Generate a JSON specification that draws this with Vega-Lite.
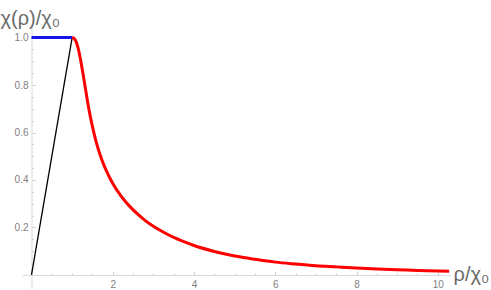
{
  "$schema": "https://vega.github.io/schema/vega-lite/v6.json",
  "width": 428,
  "height": 263,
  "autosize": {"type": "none"},
  "padding": {"left": 22, "top": 25, "right": 41, "bottom": 2},
  "background": "white",
  "config": {
    "view": {"stroke": null},
    "axis": {
      "domainColor": "#d9d9d9",
      "tickColor": "#d0d0d0",
      "labelColor": "#808080",
      "labelFont": "Liberation Sans",
      "labelFontSize": 10,
      "titleFont": "Liberation Sans",
      "titleFontSize": 20,
      "titleFontWeight": "normal",
      "titleColor": "#6a6a6a",
      "grid": false,
      "labelFlush": false,
      "labelOverlap": false
    }
  },
  "datasets": {
    "curves": [
      {"s": "linear", "x": 0, "y": 0},
      {"s": "linear", "x": 1, "y": 1},
      {"s": "flat", "x": 0, "y": 1},
      {"s": "flat", "x": 1, "y": 1},
      {"s": "tail", "x": 1.0, "y": 1.0},
      {"s": "tail", "x": 1.05, "y": 0.996},
      {"s": "tail", "x": 1.1, "y": 0.982},
      {"s": "tail", "x": 1.15, "y": 0.953},
      {"s": "tail", "x": 1.2, "y": 0.913},
      {"s": "tail", "x": 1.25, "y": 0.866},
      {"s": "tail", "x": 1.3, "y": 0.814},
      {"s": "tail", "x": 1.4, "y": 0.71},
      {"s": "tail", "x": 1.5, "y": 0.625},
      {"s": "tail", "x": 1.6, "y": 0.555},
      {"s": "tail", "x": 1.7, "y": 0.5},
      {"s": "tail", "x": 1.8, "y": 0.455},
      {"s": "tail", "x": 1.9, "y": 0.418},
      {"s": "tail", "x": 2.0, "y": 0.385},
      {"s": "tail", "x": 2.2, "y": 0.333},
      {"s": "tail", "x": 2.4, "y": 0.292},
      {"s": "tail", "x": 2.6, "y": 0.258},
      {"s": "tail", "x": 2.8, "y": 0.229},
      {"s": "tail", "x": 3.0, "y": 0.205},
      {"s": "tail", "x": 3.25, "y": 0.18},
      {"s": "tail", "x": 3.5, "y": 0.158},
      {"s": "tail", "x": 3.75, "y": 0.14},
      {"s": "tail", "x": 4.0, "y": 0.124},
      {"s": "tail", "x": 4.5, "y": 0.099},
      {"s": "tail", "x": 5.0, "y": 0.08},
      {"s": "tail", "x": 5.5, "y": 0.066},
      {"s": "tail", "x": 6.0, "y": 0.054},
      {"s": "tail", "x": 6.5, "y": 0.046},
      {"s": "tail", "x": 7.0, "y": 0.039},
      {"s": "tail", "x": 7.5, "y": 0.034},
      {"s": "tail", "x": 8.0, "y": 0.029},
      {"s": "tail", "x": 8.5, "y": 0.025},
      {"s": "tail", "x": 9.0, "y": 0.022},
      {"s": "tail", "x": 9.5, "y": 0.019},
      {"s": "tail", "x": 10.28, "y": 0.016}
    ]
  },
  "data": {"name": "curves"},
  "encoding": {
    "x": {
      "field": "x",
      "type": "quantitative",
      "scale": {"domain": [-0.234, 10.3], "nice": false, "zero": false},
      "axis": {
        "orient": "bottom",
        "offset": -13,
        "values": [0.5, 1, 1.5, 2, 2.5, 3, 3.5, 4, 4.5, 5, 5.5, 6, 6.5, 7, 7.5, 8, 8.5, 9, 9.5, 10],
        "tickSize": {"condition": {"test": "datum.value % 2 === 0", "value": -4}, "value": -2},
        "labelPadding": 8,
        "labelBaseline": "top",
        "labelExpr": "datum.value % 2 === 0 ? '' + datum.value : ''",
        "title": "ρ/χ₀",
        "titleAngle": 0,
        "titleAlign": "left",
        "titleBaseline": "alphabetic",
        "titleX": 431,
        "titleY": 5
      }
    },
    "y": {
      "field": "y",
      "type": "quantitative",
      "scale": {"domain": [-0.055, 1.053], "nice": false, "zero": false},
      "axis": {
        "orient": "left",
        "offset": -9.5,
        "values": [0.05, 0.1, 0.15, 0.2, 0.25, 0.3, 0.35, 0.4, 0.45, 0.5, 0.55, 0.6, 0.65, 0.7, 0.75, 0.8, 0.85, 0.9, 0.95, 1.0],
        "tickSize": {"condition": {"test": "abs(datum.value*5 - round(datum.value*5)) < 0.001", "value": -4}, "value": -2},
        "labelPadding": 7.5,
        "format": ".1f",
        "labelExpr": "abs(datum.value*5 - round(datum.value*5)) < 0.001 ? datum.label : ''",
        "title": "χ(ρ)/χ₀",
        "titleAngle": 0,
        "titleAlign": "left",
        "titleBaseline": "alphabetic",
        "titleX": -31.5,
        "titleY": -1
      }
    }
  },
  "layer": [
    {
      "transform": [{"filter": "datum.s === 'linear'"}],
      "mark": {"type": "line", "color": "#000000", "strokeWidth": 1.3}
    },
    {
      "transform": [{"filter": "datum.s === 'flat'"}],
      "mark": {"type": "line", "color": "#1414e6", "strokeWidth": 3}
    },
    {
      "transform": [{"filter": "datum.s === 'tail'"}],
      "mark": {"type": "line", "color": "#ff0000", "strokeWidth": 3, "interpolate": "monotone"}
    }
  ]
}
